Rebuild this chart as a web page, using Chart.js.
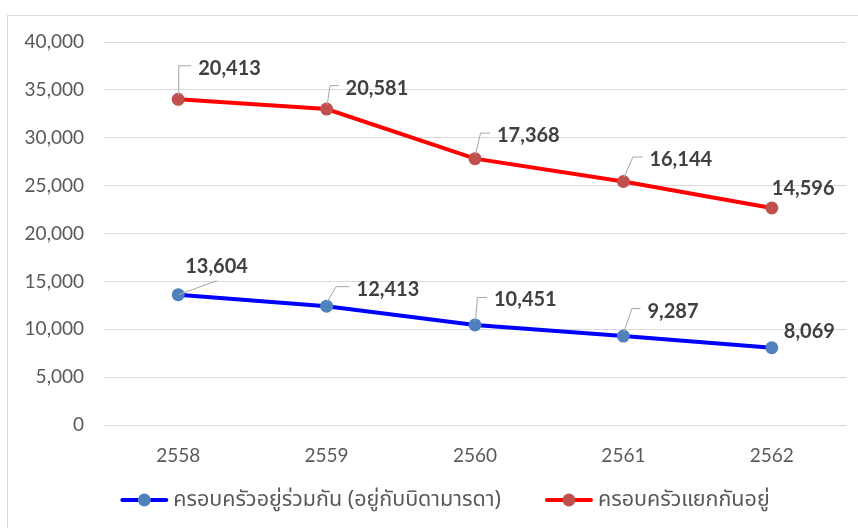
<!DOCTYPE html>
<html><head><meta charset="utf-8">
<script src="https://cdn.jsdelivr.net/npm/chart.js@4.4.1/dist/chart.umd.min.js"></script>
<style>html,body{margin:0;padding:0;background:#fff;overflow:hidden}#wrap{position:relative;width:858px;height:528px}</style>
</head><body><div id="wrap"><canvas id="c" width="858" height="528"></canvas></div>
<script>
// ---- data ----
const years = ['2558', '2559', '2560', '2561', '2562'];
const livingTogether = [13604, 12413, 10451, 9287, 8069];   // blue, bottom of stack
const livingApart = [20413, 20581, 17368, 16144, 14596];    // red, stacked on top
const seriesNames = ['ครอบครัวอยู่ร่วมกัน (อยู่กับบิดามารดา)', 'ครอบครัวแยกกันอยู่'];
const yMin = 0, yMax = 40000, yStep = 5000;

// ---- styles ----
const BLUE_LINE = '#0000FF', BLUE_PT = '#4F81BD';
const RED_LINE = '#FF0000', RED_PT = '#C0504D';
const THAI_FONT = '"Noto Sans Thai","Noto Sans Thai UI","Loma","Garuda","Tlwg Typist","Norasi","Noto Sans",sans-serif';
// label placement: [dx to text left, dy to text centre], leader corner dx (null = none, 'diag' = diagonal)
const labelPos = [
  [[7,-29],[30,-18],[19,-26],[24,-26],[12,-17]],
  [[20,-32],[19,-22],[22,-24],[26,-23],[0,-20]]
];
const leaderCorner = [
  ['diag', 9, 2, 8, null],
  [0, 3, 5, 9, null]
];

const fmt = v => Number(v).toLocaleString('en-US');

const frame = {
  id: 'frame',
  beforeDraw(chart) {
    const ctx = chart.ctx;
    ctx.save();
    ctx.fillStyle = '#fff';
    ctx.fillRect(0, 0, chart.width, chart.height);
    ctx.strokeStyle = '#D9D9D9';
    ctx.lineWidth = 1;
    ctx.strokeRect(7.5, 15.5, 1000, 1000);
    ctx.restore();
  }
};

const valueLabels = {
  id: 'valueLabels',
  afterDatasetsDraw(chart) {
    const ctx = chart.ctx;
    ctx.save();
    ctx.font = 'bold 20px Lato';
    ctx.fillStyle = '#404040';
    ctx.textBaseline = 'middle';
    ctx.textAlign = 'left';
    chart.data.datasets.forEach((ds, di) => {
      const meta = chart.getDatasetMeta(di);
      meta.data.forEach((pt, j) => {
        const [dx, dy] = labelPos[di][j];
        const tx = pt.x + dx, ty = pt.y + dy;
        const corner = leaderCorner[di][j];
        ctx.strokeStyle = '#A6A6A6';
        ctx.lineWidth = 1;
        if (corner === 'diag') {
          const w = ctx.measureText(fmt(ds.data[j])).width;
          ctx.beginPath();
          ctx.moveTo(pt.x, pt.y);
          ctx.lineTo(tx + w / 2, ty + 15);
          ctx.stroke();
        } else if (corner !== null) {
          ctx.beginPath();
          ctx.moveTo(pt.x + 0.5, pt.y - 4);
          ctx.lineTo(pt.x + corner + 0.5, ty - 1.5);
          ctx.lineTo(tx - 7, ty - 1.5);
          ctx.stroke();
        }
        ctx.fillText(fmt(ds.data[j]), tx, ty + 1);
      });
    });
    ctx.restore();
  }
};

const customLegend = {
  id: 'customLegend',
  afterDraw(chart) {
    const ctx = chart.ctx;
    ctx.save();
    ctx.font = '21.5px ' + THAI_FONT;
    ctx.textBaseline = 'middle';
    ctx.textAlign = 'left';
    const sample = 48, gapText = 5, gapItems = 44;
    const items = chart.data.datasets.map(ds => ({ label: ds.label, line: ds.borderColor, pt: ds.pointBackgroundColor, w: ctx.measureText(ds.label).width }));
    let total = 0;
    items.forEach((it, i) => { total += sample + gapText + it.w + (i ? gapItems : 0); });
    let x = 445 - total / 2;
    const y = 500;
    items.forEach((it, i) => {
      if (i) x += gapItems;
      ctx.strokeStyle = it.line; ctx.lineWidth = 4; ctx.lineCap = 'round';
      ctx.beginPath(); ctx.moveTo(x + 2, y); ctx.lineTo(x + sample - 2, y); ctx.stroke();
      ctx.fillStyle = it.pt;
      ctx.beginPath(); ctx.arc(x + sample / 2, y, 6.5, 0, Math.PI * 2); ctx.fill();
      x += sample + gapText;
      ctx.fillStyle = '#595959';
      ctx.fillText(it.label, x, y + 2);
      x += it.w;
    });
    ctx.restore();
  }
};

new Chart(document.getElementById('c'), {
  type: 'line',
  data: {
    labels: years,
    datasets: [
      { label: seriesNames[0], data: livingTogether, borderColor: BLUE_LINE, backgroundColor: BLUE_PT,
        pointBackgroundColor: BLUE_PT, pointBorderColor: BLUE_PT, borderWidth: 4, pointRadius: 6.5, pointBorderWidth: 0, fill: false, tension: 0 },
      { label: seriesNames[1], data: livingApart, borderColor: RED_LINE, backgroundColor: RED_PT,
        pointBackgroundColor: RED_PT, pointBorderColor: RED_PT, borderWidth: 4, pointRadius: 6.5, pointBorderWidth: 0, fill: false, tension: 0 }
    ]
  },
  options: {
    responsive: false,
    animation: false,
    devicePixelRatio: 1,
    layout: { padding: { left: 10, right: 12, top: 42, bottom: 65 } },
    plugins: { legend: { display: false }, tooltip: { enabled: false } },
    scales: {
      x: {
        offset: true,
        grid: { display: false, drawTicks: false },
        border: { display: false },
        ticks: { color: '#595959', font: { family: 'Lato', size: 19 }, padding: 19 },
        afterFit(s) { s.height = 38; }
      },
      y: {
        stacked: true,
        min: yMin, max: yMax,
        grid: { color: '#D9D9D9', lineWidth: 1, drawTicks: false },
        border: { display: false },
        ticks: { stepSize: yStep, color: '#595959', font: { family: 'Lato', size: 19 }, padding: 20, callback: v => fmt(v) },
        afterFit(s) { s.width = 94; }
      }
    }
  },
  plugins: [frame, valueLabels, customLegend]
});
</script></body></html>
